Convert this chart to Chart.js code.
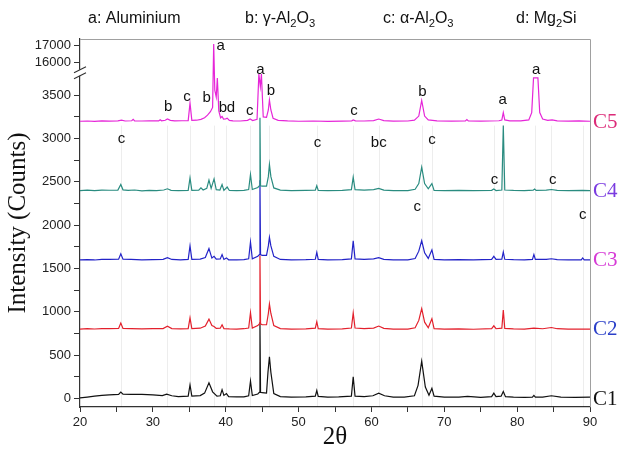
<!DOCTYPE html>
<html>
<head>
<meta charset="utf-8">
<title>XRD patterns C1-C5</title>
<script src="https://cdn.jsdelivr.net/npm/chart.js@4.4.1/dist/chart.umd.min.js"></script>
<style>
  html, body { margin: 0; padding: 0; background: #fff; }
  #wrap { width: 619px; height: 452px; }
</style>
</head>
<body>
<div id="wrap"><canvas id="xrd" width="619" height="452"></canvas></div>
<script>
// --- data: [2theta, counts] (counts already offset per sample) ---
// the 44.7 Al peak of each sample is only visible up to where the next sample covers it
const c1Points = [[20,5],[21,15],[22,25],[23,34],[24,40],[25.3,46],[25.6,72],[25.9,48],[27,46],[28.5,45],[30,40],[31.3,32],[31.9,48],[32.6,30],[33.5,20],[34.85,25],[35.1,155],[35.35,26],[36.5,32],[37.1,60],[37.7,180],[38.2,75],[38.8,26],[39.25,30],[39.5,100],[39.75,34],[40.1,55],[40.4,20],[41.5,18],[42.5,16],[43.15,30],[43.4,200],[43.65,32],[44.4,50],[44.62,70],[44.7,880],[44.78,70],[45.0,65],[45.6,60],[45.8,300],[46.0,480],[46.2,300],[46.6,55],[47.5,20],[49,15],[51,18],[52.3,25],[52.5,90],[52.7,22],[54,15],[55.5,18],[57.25,25],[57.5,250],[57.75,25],[59,20],[60.2,30],[61.0,60],[61.8,30],[63,15],[64.5,15],[65.9,30],[66.4,150],[66.9,430],[67.4,130],[67.9,35],[68.3,115],[68.6,25],[70,15],[72,15],[73.2,22],[75,12],[76.5,20],[76.8,60],[77.1,20],[77.8,25],[78.1,80],[78.4,20],[79.5,15],[81,12],[82.1,15],[82.3,35],[82.5,15],[83.5,15],[84.7,30],[86,15],[88,12],[90,15]];
const c2Points = [[20,800],[21,804],[22,801],[23,806],[24,805],[25.3,808],[25.6,870],[25.9,808],[27,806],[28.5,802],[30,806],[31.4,806],[32.0,832],[32.6,806],[33.8,802],[34.85,805],[35.1,930],[35.35,805],[36.5,810],[37.2,835],[37.7,915],[38.1,840],[38.4,830],[38.7,808],[39.25,810],[39.5,850],[39.75,806],[40.5,802],[41.5,800],[42.5,804],[43.15,812],[43.4,990],[43.65,812],[44.4,840],[44.62,860],[44.7,1650],[44.78,860],[45.0,850],[45.6,850],[45.85,980],[46.0,1090],[46.2,980],[46.6,840],[47.5,805],[49,800],[51,802],[52.3,810],[52.5,885],[52.7,806],[54,800],[56,802],[57.25,812],[57.5,985],[57.75,812],[59,806],[60.3,812],[61.0,835],[61.7,808],[63,800],[65,800],[66.0,815],[66.5,900],[66.9,1035],[67.3,880],[67.8,815],[68.3,920],[68.6,805],[70,800],[72,802],[74,798],[76.5,804],[76.8,838],[77.1,804],[77.9,810],[78.1,1020],[78.3,808],[79.5,802],[81,800],[82.3,812],[83.5,804],[84.7,818],[85.5,804],[87,800],[90,800]];
const c3Points = [[20,1600],[21,1603],[22,1598],[23,1605],[24,1604],[25.3,1608],[25.6,1670],[25.9,1608],[27,1604],[28.5,1600],[30,1602],[31.4,1606],[32.0,1625],[32.6,1604],[33.8,1600],[34.85,1604],[35.1,1760],[35.35,1604],[36.5,1608],[37.2,1626],[37.7,1730],[38.1,1620],[38.4,1640],[38.7,1608],[39.25,1610],[39.5,1660],[39.75,1604],[40.1,1622],[40.4,1600],[41.5,1598],[42.5,1602],[43.15,1612],[43.4,1805],[43.65,1612],[44.4,1640],[44.62,1660],[44.7,2520],[44.78,1660],[45.0,1650],[45.6,1650],[45.85,1760],[46.0,1860],[46.2,1760],[46.6,1640],[47.5,1604],[49,1600],[51,1602],[52.3,1606],[52.5,1685],[52.7,1604],[54,1600],[56,1602],[57.25,1610],[57.5,1820],[57.75,1610],[59,1604],[60.3,1610],[61.0,1625],[61.7,1606],[63,1600],[65,1600],[66.0,1615],[66.5,1700],[66.9,1820],[67.3,1680],[67.8,1616],[68.3,1715],[68.6,1604],[70,1600],[72,1602],[74,1598],[76.5,1604],[76.8,1640],[77.1,1604],[77.9,1608],[78.1,1690],[78.3,1606],[79.5,1602],[81,1600],[82.1,1604],[82.3,1660],[82.5,1604],[84.0,1604],[84.7,1612],[85.5,1602],[87,1600],[88.8,1600],[89.0,1622],[89.2,1600],[90,1600]];
const c4Points = [[20,2400],[21,2404],[22,2398],[23,2405],[24,2403],[25.2,2405],[25.6,2470],[25.9,2408],[26.6,2402],[27.5,2406],[28.5,2396],[29.5,2402],[30.5,2400],[31.5,2406],[32.0,2420],[32.5,2402],[33.5,2398],[34.85,2402],[35.1,2545],[35.35,2402],[36.3,2404],[36.6,2432],[36.9,2406],[37.4,2425],[37.7,2520],[38.0,2425],[38.4,2535],[38.7,2410],[39.2,2406],[39.5,2470],[39.75,2402],[40.2,2440],[40.5,2400],[41.5,2398],[42.5,2402],[43.15,2412],[43.4,2585],[43.65,2412],[44.4,2435],[44.62,2455],[44.7,3240],[44.78,2455],[45.0,2450],[45.6,2450],[45.85,2560],[46.0,2700],[46.2,2560],[46.6,2430],[47.5,2405],[49,2400],[51,2402],[52.3,2404],[52.5,2455],[52.7,2402],[54,2398],[56,2402],[57.25,2410],[57.5,2555],[57.75,2410],[59,2404],[60.3,2410],[61.0,2425],[61.7,2405],[63,2400],[65,2400],[66.0,2415],[66.5,2480],[66.9,2670],[67.3,2480],[67.8,2420],[68.3,2480],[68.6,2402],[70,2400],[72,2402],[74,2398],[76.5,2402],[76.8,2418],[77.1,2400],[77.9,2406],[78.1,3150],[78.3,2406],[79.5,2402],[81,2400],[82.2,2404],[82.4,2418],[82.6,2402],[84.0,2404],[84.7,2412],[85.5,2402],[87,2400],[89,2402],[90,2400]];
const c5Points = [[20,3200],[21,3203],[22,3198],[23,3204],[24,3202],[25.2,3205],[25.7,3214],[26.2,3203],[27.1,3206],[27.3,3222],[27.5,3204],[28.5,3203],[29.5,3206],[30.8,3204],[31.0,3218],[31.2,3205],[31.7,3212],[32.0,3226],[32.4,3210],[33.0,3204],[34.0,3206],[34.85,3208],[35.1,3410],[35.35,3210],[36.0,3212],[36.6,3222],[37.1,3240],[37.5,3270],[37.9,3310],[38.2,3360],[38.35,17100],[38.5,3560],[38.7,3480],[38.85,3700],[39.05,3320],[39.3,3240],[39.5,3255],[39.7,3226],[40.0,3228],[40.2,3236],[40.5,3210],[41.0,3205],[42.0,3203],[43.0,3210],[43.35,3226],[43.7,3208],[44.3,3222],[44.55,3745],[44.75,3600],[44.9,3745],[45.15,3250],[45.6,3245],[45.85,3330],[46.0,3445],[46.2,3330],[46.5,3235],[47.2,3210],[48.5,3204],[50,3200],[52,3203],[54,3199],[56,3202],[57.3,3205],[57.5,3215],[57.8,3204],[59,3203],[60.3,3208],[61.0,3226],[61.7,3207],[63,3202],[65.0,3203],[65.9,3212],[66.5,3260],[66.9,3440],[67.3,3260],[67.8,3215],[69,3205],[71,3202],[72.9,3205],[73.1,3220],[73.3,3205],[75,3202],[77.5,3206],[77.9,3215],[78.1,3300],[78.3,3215],[79,3205],[80.5,3205],[81.6,3215],[82.0,3300],[82.25,3700],[82.85,3700],[83.1,3300],[83.5,3225],[84.2,3210],[84.8,3216],[85.5,3205],[87,3202],[88.5,3204],[90,3200]];

const sampleNames = ['C1', 'C2', 'C3', 'C4', 'C5'];
const sampleBaselines = [0, 805, 1600, 2400, 3200];

// y axis ticks (minor ones get no label)
const yLabelTicks = [0, 500, 1000, 1500, 2000, 2500, 3000, 3500, 16000, 17000];
const yMinorTicks = [250, 750, 1250, 1750, 2250, 2750, 3250];

// phase letters above peaks: letter, 2theta, counts
const tagText = ['a', 'a', 'b', 'c', 'b', 'b', 'b', 'd', 'c', 'c', 'b', 'a', 'a', 'c', 'c', 'bc', 'c', 'c', 'c', 'c', 'c'];
const tagX = [39.3, 44.75, 46.2, 34.7, 32.1, 37.4, 39.6, 40.7, 43.3, 57.6, 67.0, 78.0, 82.6, 25.7, 52.6, 61.0, 68.3, 76.9, 84.9, 66.3, 89.0];
const tagY = [17000, 15580, 3549, 3480, 3364, 3465, 3349, 3349, 3321, 3321, 3541, 3445, 15600, 3000, 2945, 2945, 2983, 2529, 2521, 2206, 2117];

const phaseKeys = ['a: Aluminium', 'b: γ-Al_2O_3', 'c: α-Al_2O_3', 'd: Mg_2Si'];
const guideLines = [25.6, 32.0, 35.1, 38.4, 40.1, 43.4, 46.0, 52.5, 57.5, 61.0, 66.9, 68.3, 76.8, 78.1, 82.4, 84.7, 89.0];

// --- broken y axis: 3760..15400 is cut out, upper part compressed ---
const BREAK_LOW = 3760;
const BREAK_HIGH = 15400;
const UPPER_SCALE = 0.195;
function squeeze(v) {
    if (v <= BREAK_LOW) return v;
    return BREAK_LOW + Math.max(0, v - BREAK_HIGH) * UPPER_SCALE;
}
function unsqueeze(t) {
    if (t <= BREAK_LOW) return t;
    return BREAK_HIGH + (t - BREAK_LOW) / UPPER_SCALE;
}

class BrokenLinearScale extends Chart.LinearScale {
    static id = 'brokenLinear';
    buildTicks() {
        return yLabelTicks.concat(yMinorTicks).sort((a, b) => a - b).map(v => ({ value: v }));
    }
    getPixelForValue(value) {
        return super.getPixelForValue(squeeze(value));
    }
    getValueForPixel(pixel) {
        return unsqueeze(super.getValueForPixel(pixel));
    }
}
Chart.register(BrokenLinearScale);

const lineColors = ['#111111', '#e3202c', '#2323c8', '#2a8c80', '#e626d8'];
const nameColors = ['#111111', '#2a3fc8', '#d63ad6', '#7a3be0', '#dc2a78'];
const allPoints = [c1Points, c2Points, c3Points, c4Points, c5Points];

// C5 first so it is painted last (on top)
const datasets = [4, 3, 2, 1, 0].map(i => ({
    label: sampleNames[i],
    data: allPoints[i].map(p => ({ x: p[0], y: p[1] })),
    borderColor: lineColors[i],
    borderWidth: 1.2,
    pointRadius: 0,
    tension: 0,
    fill: false
}));

function drawRich(ctx, text, x, y, size) {
    // '_' marks the next character as subscript
    let cx = x;
    for (let i = 0; i < text.length; i++) {
        let ch = text[i];
        let sub = false;
        if (ch === '_') { sub = true; ch = text[++i]; }
        ctx.font = (sub ? size * 0.7 : size) + 'px "Liberation Sans", Arial, sans-serif';
        ctx.fillText(ch, cx, sub ? y + size * 0.28 : y);
        cx += ctx.measureText(ch).width;
    }
}

const decorations = {
    id: 'decorations',
    beforeDatasetsDraw(chart) {
        const { ctx, chartArea, scales } = chart;
        ctx.save();
        ctx.strokeStyle = 'rgba(0,0,0,0.07)';
        ctx.lineWidth = 1;
        guideLines.forEach(g => {
            const px = Math.round(scales.x.getPixelForValue(g)) + 0.5;
            ctx.beginPath();
            ctx.moveTo(px, chartArea.bottom);
            ctx.lineTo(px, scales.y.getPixelForValue(3150));
            ctx.stroke();
        });
        ctx.restore();
    },
    afterDraw(chart) {
        const { ctx, chartArea, scales } = chart;
        const x = scales.x, y = scales.y;
        ctx.save();

        // frame top and right
        ctx.strokeStyle = '#a0a0a0';
        ctx.lineWidth = 1;
        ctx.beginPath();
        ctx.moveTo(chartArea.left, chartArea.top + 0.5);
        ctx.lineTo(chartArea.right + 0.5, chartArea.top + 0.5);
        ctx.lineTo(chartArea.right + 0.5, chartArea.bottom);
        ctx.stroke();

        // axis break marks
        const yb = y.getPixelForValue(BREAK_LOW);
        const xl = chartArea.left;
        ctx.fillStyle = '#fff';
        ctx.fillRect(xl - 2, yb - 3, 4, 6);
        ctx.strokeStyle = '#333';
        ctx.lineWidth = 1.2;
        [-3, 3].forEach(d => {
            ctx.beginPath();
            ctx.moveTo(xl - 6, yb + d + 3);
            ctx.lineTo(xl + 6, yb + d - 3);
            ctx.stroke();
        });

        // peak letters
        ctx.fillStyle = '#111';
        ctx.font = '15px "Liberation Sans", Arial, sans-serif';
        ctx.textAlign = 'center';
        ctx.textBaseline = 'middle';
        tagText.forEach((t, i) => {
            ctx.fillText(t, x.getPixelForValue(tagX[i]), y.getPixelForValue(tagY[i]));
        });

        // sample names at the right
        ctx.textAlign = 'left';
        ctx.font = '21px "Liberation Serif", "Times New Roman", serif';
        sampleNames.forEach((n, i) => {
            ctx.fillStyle = nameColors[i];
            ctx.fillText(n, chartArea.right + 3, y.getPixelForValue(sampleBaselines[i]) + 1);
        });

        // phase key on top
        ctx.fillStyle = '#111';
        ctx.textBaseline = 'alphabetic';
        const keyX = [88, 245, 383, 516];
        phaseKeys.forEach((k, i) => drawRich(ctx, k, keyX[i], 23, 16));

        ctx.restore();
    }
};

const ctxXrd = document.getElementById('xrd');
new Chart(ctxXrd, {
    type: 'line',
    data: { datasets: datasets },
    options: {
        responsive: false,
        animation: false,
        layout: { padding: { top: 39, right: 29, left: 0, bottom: 0 } },
        plugins: { legend: { display: false }, tooltip: { enabled: false } },
        scales: {
            x: {
                type: 'linear',
                min: 20,
                max: 90,
                border: { color: '#333', width: 1.2 },
                grid: { drawOnChartArea: false, drawTicks: true, tickLength: 5, tickColor: '#333' },
                ticks: {
                    stepSize: 5,
                    autoSkip: false,
                    maxRotation: 0,
                    padding: 3,
                    color: '#222',
                    font: { family: '"Liberation Sans", Arial, sans-serif', size: 13 },
                    callback: v => (v % 10 === 0 ? String(v) : '')
                },
                title: {
                    display: true,
                    text: '2θ',
                    color: '#111',
                    font: { family: '"Liberation Serif", "Times New Roman", serif', size: 25 },
                    padding: { top: 0, bottom: 0 }
                },
                afterFit: s => { s.height = 45; }
            },
            y: {
                type: 'brokenLinear',
                min: -100,
                max: squeeze(17400),
                border: { color: '#333', width: 1.2 },
                grid: { drawOnChartArea: false, drawTicks: true, tickLength: 6, tickColor: '#333' },
                ticks: {
                    autoSkip: false,
                    padding: 3,
                    color: '#222',
                    font: { family: '"Liberation Sans", Arial, sans-serif', size: 13 },
                    callback: v => (yLabelTicks.includes(v) ? String(v) : '')
                },
                title: {
                    display: true,
                    text: 'Intensity (Counts)',
                    color: '#111',
                    font: { family: '"Liberation Serif", "Times New Roman", serif', size: 25 },
                    padding: { top: 3, bottom: 0 }
                },
                afterFit: s => { s.width = 80; }
            }
        }
    },
    plugins: [decorations]
});
</script>
</body>
</html>
